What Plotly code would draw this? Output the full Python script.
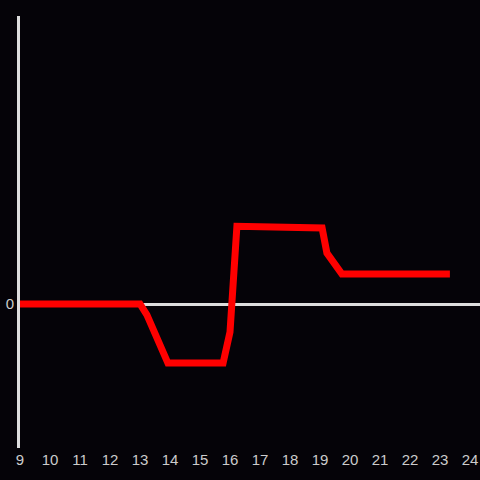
import plotly.graph_objects as go

hours = [9.0, 13.0, 13.23, 13.77, 13.93, 15.77, 16.0, 16.23, 18.83, 19.07, 19.23, 19.73, 23.33]
values = [0.0, 0.0, -0.076, -0.354, -0.41, -0.41, -0.194, 0.54, 0.54, 0.528, 0.354, 0.208, 0.208]
tick_vals = list(range(9, 25))

fig = go.Figure()
fig.add_trace(go.Scatter(x=hours, y=values, mode="lines",
                         line=dict(color="#ff0000", width=7), hoverinfo="skip"))

bg = "#050308"
fig.update_layout(
    width=480, height=480,
    margin=dict(l=20, r=0, t=16, b=32, autoexpand=False),
    paper_bgcolor=bg, plot_bgcolor=bg,
    showlegend=False,
    font=dict(family="Liberation Sans, Arial, sans-serif", size=15, color="#cccccc"),
    xaxis=dict(range=[9, 9 + 460 / 30], tickvals=tick_vals, ticktext=[str(v) for v in tick_vals],
               showgrid=False, zeroline=False, showline=False, ticks="", automargin=False,
               ticklabelstandoff=1),
    yaxis=dict(range=[-1, 2], tickvals=[0], ticktext=["0"], showgrid=False,
               zeroline=True, zerolinecolor="#dddddd", zerolinewidth=3,
               showline=True, linecolor="#dddddd", linewidth=3, ticks="", automargin=False),
)
fig.write_html("out.html", config={"displayModeBar": False},
               post_script="document.body.style.margin='0';document.body.style.background='%s';" % bg)
